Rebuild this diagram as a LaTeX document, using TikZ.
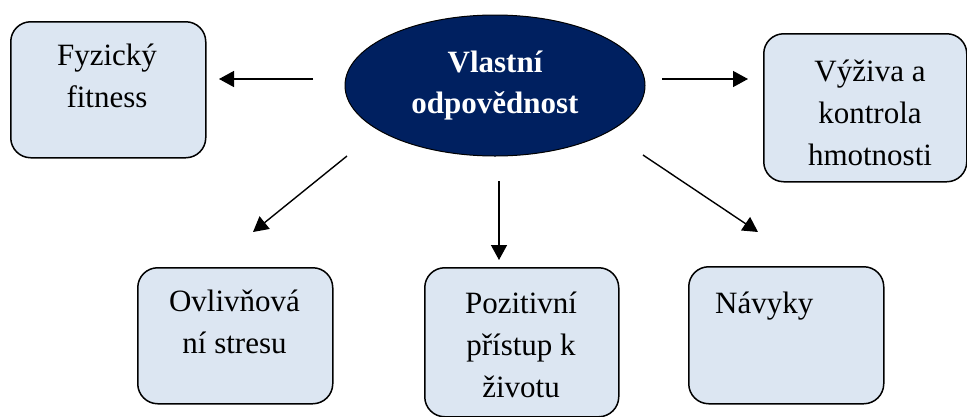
\documentclass[tikz,border=0pt]{standalone}
\usepackage{fontspec}
\setmainfont{Liberation Serif}
\usetikzlibrary{arrows.meta,shapes.geometric}
\definecolor{boxfill}{HTML}{DCE6F2}
\definecolor{navyfill}{HTML}{002060}
\begin{document}
\begin{tikzpicture}[x=1pt,y=-1pt,
  box/.style={draw=black, line width=1.5pt, fill=boxfill, rounded corners=20pt, anchor=north west, inner sep=0pt},
  lbl/.style={font=\fontsize{31}{42}\selectfont, align=center, anchor=base, inner sep=0pt},
  arr/.style={line width=1.4pt, -{Triangle[length=15pt,width=16pt]}}]
\useasboundingbox (0,0) rectangle (967,416);
\fill[white] (0,0) rectangle (967,416);
% boxes
\node[box, minimum width=195pt, minimum height=136pt] (fyz) at (10,21) {};
\node[box, minimum width=203pt, minimum height=148pt] (vyz) at (763,33) {};
\node[box, minimum width=195pt, minimum height=136pt] (ovl) at (137,267) {};
\node[box, minimum width=194pt, minimum height=149pt] (poz) at (424,267) {};
\node[box, minimum width=195pt, minimum height=137pt] (nav) at (688,266) {};
% ellipse
\node[ellipse, draw=black, line width=1pt, fill=navyfill, minimum width=300pt, minimum height=141pt, inner sep=0pt] (ell) at (495,85.5) {};
% labels (anchor = baseline of the last line)
\node[lbl] (fyzt) at (107,107) {Fyzický\\fitness};
\node[lbl] (vyzt) at (870,165) {Výživa a\\kontrola\\hmotnosti};
\node[lbl] (ovlt) at (234.5,353) {Ovlivňová\\ní stresu};
\node[lbl] (pozt) at (521,397) {Pozitivní\\přístup k\\životu};
\node[lbl, anchor=base west] (navt) at (715,313) {Návyky};
\node[lbl, text=white, font=\bfseries\fontsize{31}{41}\selectfont] (ellt) at (495,113) {Vlastní\\odpovědnost};
% arrow ends
\coordinate (a1s) at (313,79);  \coordinate (a1e) at (219,79);
\coordinate (a2s) at (662,79);  \coordinate (a2e) at (748,79);
\coordinate (a3s) at (347,156); \coordinate (a3e) at (253,232);
\coordinate (a4s) at (499,181); \coordinate (a4e) at (499,260);
\coordinate (a5s) at (643,155); \coordinate (a5e) at (758,232);
\draw[arr] (a1s) -- (a1e);
\draw[arr] (a2s) -- (a2e);
\draw[arr] (a3s) -- (a3e);
\draw[arr] (a4s) -- (a4e);
\draw[arr] (a5s) -- (a5e);
\end{tikzpicture}
\end{document}
